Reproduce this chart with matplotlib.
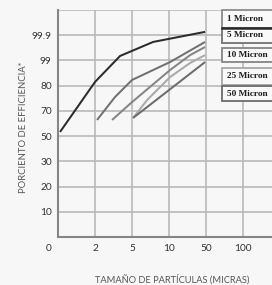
import numpy as np
import matplotlib
matplotlib.use("Agg")
import matplotlib.pyplot as plt
import matplotlib.transforms as mtransforms
from matplotlib.patches import Rectangle

# ── Axis break points (non-uniform scales, equally spaced on the chart) ──
X_VALUES = [0, 2, 5, 10, 50, 100, 200]
Y_VALUES = [0, 10, 20, 30, 50, 70, 80, 99, 99.9, 99.99]

X_TICKS = [0, 2, 5, 10, 50, 100]
X_TICK_LABELS = ["0", "2", "5", "10", "50", "100"]
Y_TICKS = [0, 10, 20, 30, 50, 70, 80, 99, 99.9, 99.99]
Y_TICK_LABELS = ["", "10", "20", "30", "50", "70", "80", "99", "99.9", ""]

# ── Series (particle size in microns, efficiency in %) ──
size_1 = [0.11, 2.0, 4.03, 7.84, 48.9]
eff_1 = [53.3, 82.8, 99.16, 99.66, 99.912]

size_5 = [2.16, 3.62, 5.0, 11.1, 48.9]
eff_5 = [62.8, 75.5, 84.3, 97.8, 99.66]

size_10 = [3.38, 5.0, 11.1, 32.7, 48.9]
eff_10 = [62.8, 73.5, 91.8, 99.19, 99.48]

size_25 = [5.14, 7.03, 11.1, 32.7, 48.9]
eff_25 = [64.4, 74.3, 86.5, 97.1, 99.19]

size_50 = [5.14, 48.9]
eff_50 = [64.4, 97.8]

LABELS = ["1 Micron", "5 Micron", "10 Micron", "25 Micron", "50 Micron"]

# ── Styling ──
BG = "#f7f7f7"
GRID_CLR = "#b9b9b9"
SPINE_CLR = "#858585"
TEXT_CLR = "#333333"
LINE_CLRS = ["#2b2b2b", "#717171", "#858585", "#a9a9a9", "#6c6c6c"]

W, H = 272, 285

fig = plt.figure(figsize=(W / 100, H / 100), dpi=100, facecolor=BG)
ax = fig.add_axes([58 / W, (H - 237) / H, (W - 58) / W, 227 / H])
ax.set_facecolor(BG)

XI = np.arange(len(X_VALUES))
YI = np.arange(len(Y_VALUES))
ax.set_xscale("function", functions=(lambda v: np.interp(v, X_VALUES, XI),
                                     lambda i: np.interp(i, XI, X_VALUES)))
ax.set_yscale("function", functions=(lambda v: np.interp(v, Y_VALUES, YI),
                                     lambda i: np.interp(i, YI, Y_VALUES)))

series = [(size_1, eff_1), (size_5, eff_5), (size_10, eff_10),
          (size_25, eff_25), (size_50, eff_50)]
for (xs, ys), clr in zip(series, LINE_CLRS):
    ax.plot(xs, ys, color=clr, linewidth=1.45, zorder=3, solid_capstyle="butt")

ax.set_xlim(0, 178)
ax.set_ylim(0, 99.99)
ax.set_xticks(X_TICKS)
ax.set_xticklabels(X_TICK_LABELS)
ax.set_yticks(Y_TICKS)
ax.set_yticklabels(Y_TICK_LABELS)
ax.tick_params(length=0, labelsize=7.3, colors=TEXT_CLR)
ax.tick_params(axis="x", pad=5.0)
ax.tick_params(axis="y", pad=4.5)
for lab in ax.get_xticklabels() + ax.get_yticklabels():
    lab.set_family("Lato")
# the "0" sits left of the corner
first = ax.get_xticklabels()[0]
first.set_transform(first.get_transform() +
                    mtransforms.ScaledTranslation(-9 / 100, 0, fig.dpi_scale_trans))

ax.grid(True, color=GRID_CLR, linewidth=1.2, zorder=0)
ax.set_axisbelow(True)
for side in ["top", "right"]:
    ax.spines[side].set_visible(False)
for side in ["left", "bottom"]:
    ax.spines[side].set_color(SPINE_CLR)
    ax.spines[side].set_linewidth(1.5)

fig.text(24 / W, 1 - 127 / H, "PORCIENTO DE EFFICIENCIA*", rotation=90,
         ha="center", va="center", fontsize=6.8, color="#555555", family="Lato")
fig.text(172 / W, 1 - 279 / H, "TAMAÑO DE PARTÍCULAS (MICRAS)",
         ha="center", va="center", fontsize=6.7, color="#555555", family="Lato")

# ── Legend boxes (pixel layout) ──
boxes = [(10, 28), (28, 43), (48, 62), (68, 85), (86, 101)]
for (top, bot), lab, clr in zip(boxes, LABELS, LINE_CLRS):
    edge = clr if lab != "1 Micron" else "#8c8c8c"
    fig.add_artist(Rectangle((222 / W, 1 - bot / H), 60 / W, (bot - top) / H,
                             transform=fig.transFigure, facecolor="#f9f9f9",
                             edgecolor=edge, linewidth=1.3, zorder=5))
    fig.text(227 / W, 1 - (top + bot) / 2 / H, lab, ha="left", va="center",
             fontsize=6.7, fontweight="bold", family="Liberation Serif",
             color="#1e1e1e", zorder=6)
# thick dark rule under the first entry
fig.add_artist(plt.Line2D([222 / W, 1.0], [1 - 28 / H, 1 - 28 / H],
                          transform=fig.transFigure, color="#2b2b2b",
                          linewidth=1.8, zorder=7))

fig.savefig("out.png", dpi=100, facecolor=BG)
